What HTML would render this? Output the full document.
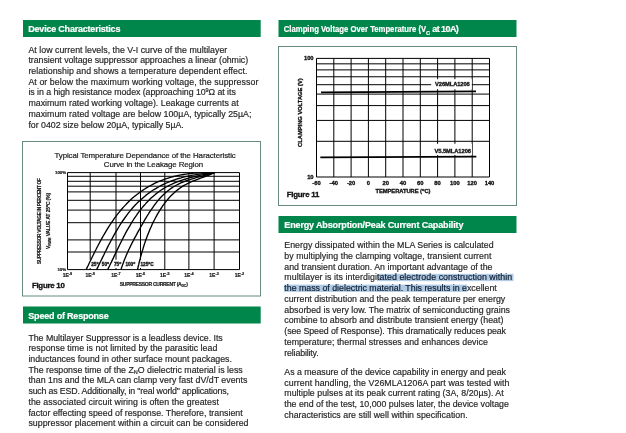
<!DOCTYPE html>
<html><head><meta charset="utf-8"><style>
html,body{margin:0;padding:0;background:#fff;}
svg{display:block;will-change:transform;filter:blur(0.3px);}
svg text{font-family:"Liberation Sans",Arial,sans-serif;font-size:8.8px;fill:#262626;}
text.b{stroke:#262626;stroke-width:0.18px;}
text.h{font-size:9.0px;font-weight:bold;fill:#fff;stroke:#fff;stroke-width:0.2px;}
text.c{fill:#111;stroke:#111;stroke-width:0.32px;}
text.y{fill:#1a1a1a;stroke:#1a1a1a;stroke-width:0.2px;}
text.t{fill:#1a1a1a;stroke:#1a1a1a;stroke-width:0.2px;}
tspan.s{fill:#0e1c30;stroke:#0e1c30;}
</style></head><body>
<svg width="626" height="433" viewBox="0 0 626 433">
<rect x="23" y="20" width="237.7" height="17" fill="#00854b"/>
<text x="28.3" y="32.3" textLength="92.1" class="h">Device Characteristics</text>
<rect x="278.5" y="20" width="238" height="17" fill="#00854b"/>
<rect x="278.5" y="216" width="238" height="17" fill="#00854b"/>
<text x="284.3" y="228.3" textLength="179.1" class="h">Energy Absorption/Peak Current Capability</text>
<rect x="23" y="306.5" width="237.7" height="17" fill="#00854b"/>
<text x="28.3" y="318.8" textLength="80.4" class="h">Speed of Response</text>
<text x="283.8" y="32.3" class="h"><tspan textLength="142.3" lengthAdjust="spacingAndGlyphs">Clamping Voltage Over Temperature (V</tspan><tspan dy="2.4" style="font-size:5.6px">C</tspan><tspan dy="-2.4" x="432.2" textLength="26.6">at 10A)</tspan></text>
<text x="28.4" y="52.6" textLength="198.9" class="b">At low current levels, the V-I curve of the multilayer</text>
<text x="28.4" y="63.32" textLength="219.7" class="b">transient voltage suppressor approaches a linear (ohmic)</text>
<text x="28.4" y="74.04" textLength="219.0" class="b">relationship and shows a temperature dependent effect.</text>
<text x="28.4" y="84.76" textLength="230.0" class="b">At or below the maximum working voltage, the suppressor</text>
<text x="28.4" y="95.48" textLength="207.4" class="b">is in a high resistance modex (approaching 10<tspan dy="-3" style="font-size:5.5px">9</tspan><tspan dy="3">Ω at its</tspan></text>
<text x="28.4" y="106.2" textLength="210.3" class="b">maximum rated working voltage). Leakage currents at</text>
<text x="28.4" y="116.92" textLength="223.0" class="b">maximum rated voltage are below 100µA, typically 25µA;</text>
<text x="28.4" y="127.64" textLength="155.4" class="b">for 0402 size below 20µA, typically 5µA.</text>
<text x="28.4" y="340.5" textLength="194.3" class="b">The Multilayer Suppressor is a leadless device. Its</text>
<text x="28.4" y="351.22" textLength="188.9" class="b">response time is not limited by the parasitic lead</text>
<text x="28.4" y="361.94" textLength="203.5" class="b">inductances found in other surface mount packages.</text>
<text x="28.4" y="372.66" textLength="214.3" class="b">The response time of the Z<tspan dy="1.8" style="font-size:5.5px">N</tspan><tspan dy="-1.8">O dielectric material is less</tspan></text>
<text x="28.4" y="383.38" textLength="219.0" class="b">than 1ns and the MLA can clamp very fast dV/dT events</text>
<text x="28.4" y="394.1" textLength="200.5" class="b">such as ESD. Additionally, in "real world" applications,</text>
<text x="28.4" y="404.82" textLength="190.6" class="b">the associated circuit wiring is often the greatest</text>
<text x="28.4" y="415.54" textLength="214.3" class="b">factor effecting speed of response. Therefore, transient</text>
<text x="28.4" y="426.26" textLength="220.1" class="b">suppressor placement within a circuit can be considered</text>
<rect x="377" y="273.85" width="136.5" height="7.3" fill="#b0cbe3"/>
<rect x="284" y="284.60" width="183.2" height="7.3" fill="#b0cbe3"/>
<text x="284.3" y="248.1" textLength="209.3" class="b">Energy dissipated within the MLA Series is calculated</text>
<text x="284.3" y="258.85" textLength="207.1" class="b">by multiplying the clamping voltage, transient current</text>
<text x="284.3" y="269.6" textLength="208.2" class="b">and transient duration. An important advantage of the</text>
<text x="284.3" y="280.35" textLength="227.9" class="b">multilayer is its interdigi<tspan class="s">tated electrode construction within</tspan></text>
<text x="284.3" y="291.1" textLength="212.5" class="b"><tspan class="s">the mass of dielectric material. This results in e</tspan>xcellent</text>
<text x="284.3" y="301.85" textLength="220.9" class="b">current distribution and the peak temperature per energy</text>
<text x="284.3" y="312.6" textLength="225.7" class="b">absorbed is very low. The matrix of semiconducting grains</text>
<text x="284.3" y="323.35" textLength="219.1" class="b">combine to absorb and distribute transient energy (heat)</text>
<text x="284.3" y="334.1" textLength="221.7" class="b">(see Speed of Response). This dramatically reduces peak</text>
<text x="284.3" y="344.85" textLength="203.5" class="b">temperature; thermal stresses and enhances device</text>
<text x="284.3" y="355.6" textLength="34.3" class="b">reliability.</text>
<text x="284.3" y="375.0" textLength="221.7" class="b">As a measure of the device capability in energy and peak</text>
<text x="284.3" y="385.72" textLength="225.2" class="b">current handling, the V26MLA1206A part was tested with</text>
<text x="284.3" y="396.44" textLength="219.4" class="b">multiple pulses at its peak current rating (3A, 8/20µs). At</text>
<text x="284.3" y="407.16" textLength="224.6" class="b">the end of the test, 10,000 pulses later, the device voltage</text>
<text x="284.3" y="417.88" textLength="183.3" class="b">characteristics are still well within specification.</text>
<rect x="278.5" y="46.5" width="238" height="159" fill="none" stroke="#668a7f" stroke-width="1"/>
<line x1="316.50" y1="58.40" x2="316.50" y2="177.00" stroke="#000" stroke-width="1"/>
<line x1="333.80" y1="58.40" x2="333.80" y2="177.00" stroke="#000" stroke-width="1"/>
<line x1="351.10" y1="58.40" x2="351.10" y2="177.00" stroke="#000" stroke-width="1"/>
<line x1="368.40" y1="58.40" x2="368.40" y2="177.00" stroke="#000" stroke-width="1"/>
<line x1="385.70" y1="58.40" x2="385.70" y2="177.00" stroke="#000" stroke-width="1"/>
<line x1="403.00" y1="58.40" x2="403.00" y2="177.00" stroke="#000" stroke-width="1"/>
<line x1="420.30" y1="58.40" x2="420.30" y2="177.00" stroke="#000" stroke-width="1"/>
<line x1="437.60" y1="58.40" x2="437.60" y2="177.00" stroke="#000" stroke-width="1"/>
<line x1="454.90" y1="58.40" x2="454.90" y2="177.00" stroke="#000" stroke-width="1"/>
<line x1="472.20" y1="58.40" x2="472.20" y2="177.00" stroke="#000" stroke-width="1"/>
<line x1="489.50" y1="58.40" x2="489.50" y2="177.00" stroke="#000" stroke-width="1"/>
<line x1="316.50" y1="177.00" x2="489.50" y2="177.00" stroke="#000" stroke-width="1"/>
<line x1="316.50" y1="141.30" x2="489.50" y2="141.30" stroke="#000" stroke-width="1"/>
<line x1="316.50" y1="120.41" x2="489.50" y2="120.41" stroke="#000" stroke-width="1"/>
<line x1="316.50" y1="105.60" x2="489.50" y2="105.60" stroke="#000" stroke-width="1"/>
<line x1="316.50" y1="94.10" x2="489.50" y2="94.10" stroke="#000" stroke-width="1"/>
<line x1="316.50" y1="84.71" x2="489.50" y2="84.71" stroke="#000" stroke-width="1"/>
<line x1="316.50" y1="76.77" x2="489.50" y2="76.77" stroke="#000" stroke-width="1"/>
<line x1="316.50" y1="69.89" x2="489.50" y2="69.89" stroke="#000" stroke-width="1"/>
<line x1="316.50" y1="63.83" x2="489.50" y2="63.83" stroke="#000" stroke-width="1"/>
<line x1="316.50" y1="58.40" x2="489.50" y2="58.40" stroke="#000" stroke-width="1"/>
<rect x="431.2" y="79.2" width="40.6" height="10" fill="#fff"/>
<rect x="433.5" y="143.8" width="38.4" height="11.2" fill="#fff"/>
<line x1="321.00" y1="92.30" x2="476.00" y2="91.30" stroke="#000" stroke-width="1.7"/>
<line x1="320.30" y1="157.40" x2="476.30" y2="156.70" stroke="#000" stroke-width="1.7"/>
<text x="435.1" y="86.4" textLength="34.7" class="c" style="font-size:5.8px;font-weight:bold;">V26MLA1206</text>
<text x="434.5" y="152.5" textLength="36.5" class="c" style="font-size:5.8px;font-weight:bold;">V5.5MLA1206</text>
<text x="313.6" y="60.2" class="c" text-anchor="end" style="font-size:5.8px;font-weight:bold;">100</text>
<text x="313.6" y="179.1" class="c" text-anchor="end" style="font-size:5.8px;font-weight:bold;">10</text>
<text x="316.5" y="185.3" class="c" text-anchor="middle" style="font-size:5.8px;font-weight:bold;">-60</text>
<text x="333.8" y="185.3" class="c" text-anchor="middle" style="font-size:5.8px;font-weight:bold;">-40</text>
<text x="351.1" y="185.3" class="c" text-anchor="middle" style="font-size:5.8px;font-weight:bold;">-20</text>
<text x="368.4" y="185.3" class="c" text-anchor="middle" style="font-size:5.8px;font-weight:bold;">0</text>
<text x="385.7" y="185.3" class="c" text-anchor="middle" style="font-size:5.8px;font-weight:bold;">20</text>
<text x="403.0" y="185.3" class="c" text-anchor="middle" style="font-size:5.8px;font-weight:bold;">40</text>
<text x="420.3" y="185.3" class="c" text-anchor="middle" style="font-size:5.8px;font-weight:bold;">60</text>
<text x="437.6" y="185.3" class="c" text-anchor="middle" style="font-size:5.8px;font-weight:bold;">80</text>
<text x="454.9" y="185.3" class="c" text-anchor="middle" style="font-size:5.8px;font-weight:bold;">100</text>
<text x="472.2" y="185.3" class="c" text-anchor="middle" style="font-size:5.8px;font-weight:bold;">120</text>
<text x="489.5" y="185.3" class="c" text-anchor="middle" style="font-size:5.8px;font-weight:bold;">140</text>
<text x="375.5" y="192.7" class="c" style="font-size:5.8px;font-weight:bold"><tspan textLength="46.5">TEMPERATURE (</tspan><tspan dy="-1.5" style="font-size:4px">o</tspan><tspan dy="1.5">C)</tspan></text>
<text transform="translate(301.7,146.9) rotate(-90)" x="0" y="0" textLength="68.6" class="c" style="font-size:5.8px;font-weight:bold">CLAMPING VOLTAGE (V)</text>
<text x="286.7" y="196.9" textLength="32.6" class="c" style="font-size:7.9px;font-weight:bold;">Figure 11</text>
<rect x="22.5" y="141.5" width="238" height="154.5" fill="none" stroke="#668a7f" stroke-width="1"/>
<text x="54.5" y="157.8" textLength="181.3" class="t" style="font-size:7.9px;">Typical Temperature Dependance of the Haracteristic</text>
<text x="103.8" y="166.9" textLength="99.3" class="t" style="font-size:7.9px;">Curve in the Leakage Region</text>
<line x1="67.50" y1="172.60" x2="67.50" y2="269.60" stroke="#000" stroke-width="1"/>
<line x1="90.20" y1="172.60" x2="90.20" y2="269.60" stroke="#000" stroke-width="1"/>
<line x1="116.00" y1="172.60" x2="116.00" y2="269.60" stroke="#000" stroke-width="1"/>
<line x1="140.50" y1="172.60" x2="140.50" y2="269.60" stroke="#000" stroke-width="1"/>
<line x1="164.80" y1="172.60" x2="164.80" y2="269.60" stroke="#000" stroke-width="1"/>
<line x1="188.90" y1="172.60" x2="188.90" y2="269.60" stroke="#000" stroke-width="1"/>
<line x1="214.10" y1="172.60" x2="214.10" y2="269.60" stroke="#000" stroke-width="1"/>
<line x1="239.50" y1="172.60" x2="239.50" y2="269.60" stroke="#000" stroke-width="1"/>
<line x1="67.50" y1="172.60" x2="239.50" y2="172.60" stroke="#000" stroke-width="1"/>
<line x1="67.50" y1="176.30" x2="239.50" y2="176.30" stroke="#000" stroke-width="1"/>
<line x1="67.50" y1="181.30" x2="239.50" y2="181.30" stroke="#000" stroke-width="1"/>
<line x1="67.50" y1="186.20" x2="239.50" y2="186.20" stroke="#000" stroke-width="1"/>
<line x1="67.50" y1="191.90" x2="239.50" y2="191.90" stroke="#000" stroke-width="1"/>
<line x1="67.50" y1="200.30" x2="239.50" y2="200.30" stroke="#000" stroke-width="1"/>
<line x1="67.50" y1="210.10" x2="239.50" y2="210.10" stroke="#000" stroke-width="1"/>
<line x1="67.50" y1="222.70" x2="239.50" y2="222.70" stroke="#000" stroke-width="1"/>
<line x1="67.50" y1="239.90" x2="239.50" y2="239.90" stroke="#000" stroke-width="1"/>
<line x1="67.50" y1="252.00" x2="239.50" y2="252.00" stroke="#000" stroke-width="1"/>
<line x1="67.50" y1="269.60" x2="239.50" y2="269.60" stroke="#000" stroke-width="1"/>
<text x="66.2" y="174.2" class="y" text-anchor="end" style="font-size:4.4px;font-weight:bold;">100%</text>
<text x="66.2" y="271.2" class="y" text-anchor="end" style="font-size:4.4px;font-weight:bold;">10%</text>
<text x="67.50" y="277.2" text-anchor="middle" class="y" style="font-size:5px;font-weight:bold">1E<tspan dy="-1.8" style="font-size:3.8px">-9</tspan></text>
<text x="90.20" y="277.2" text-anchor="middle" class="y" style="font-size:5px;font-weight:bold">1E<tspan dy="-1.8" style="font-size:3.8px">-8</tspan></text>
<text x="116.00" y="277.2" text-anchor="middle" class="y" style="font-size:5px;font-weight:bold">1E<tspan dy="-1.8" style="font-size:3.8px">-7</tspan></text>
<text x="140.50" y="277.2" text-anchor="middle" class="y" style="font-size:5px;font-weight:bold">1E<tspan dy="-1.8" style="font-size:3.8px">-6</tspan></text>
<text x="164.80" y="277.2" text-anchor="middle" class="y" style="font-size:5px;font-weight:bold">1E<tspan dy="-1.8" style="font-size:3.8px">-5</tspan></text>
<text x="188.90" y="277.2" text-anchor="middle" class="y" style="font-size:5px;font-weight:bold">1E<tspan dy="-1.8" style="font-size:3.8px">-4</tspan></text>
<text x="214.10" y="277.2" text-anchor="middle" class="y" style="font-size:5px;font-weight:bold">1E<tspan dy="-1.8" style="font-size:3.8px">-3</tspan></text>
<text x="239.50" y="277.2" text-anchor="middle" class="y" style="font-size:5px;font-weight:bold">1E<tspan dy="-1.8" style="font-size:3.8px">-2</tspan></text>
<text x="119.7" y="286.1" class="y" style="font-size:5px;font-weight:bold"><tspan textLength="62">SUPPRESSOR CURRENT (A</tspan><tspan dy="1.2" style="font-size:3.4px">DC</tspan><tspan dy="-1.2">)</tspan></text>
<text transform="translate(41.3,264) rotate(-90)" x="0" y="0" textLength="86" class="y" style="font-size:4.8px;font-weight:bold">SUPPRESSOR VOLTAGE IN PERCENT OF</text>
<text transform="translate(49.5,249) rotate(-90)" x="0" y="0" textLength="56" class="y" style="font-size:4.8px;font-weight:bold">V<tspan dy="1" style="font-size:3.4px">RWM</tspan><tspan dy="-1"> VALUE AT 25</tspan><tspan dy="-1.5" style="font-size:3.4px">o</tspan><tspan dy="1.5">C (%)</tspan></text>
<text x="31.9" y="288.2" textLength="32.9" class="c" style="font-size:7.9px;font-weight:bold;">Figure 10</text>
<rect x="88" y="259.8" width="68" height="8.2" fill="#fff"/>
<polyline points="86.2,269.6 87.2,267.4 88.3,265.2 89.3,263.0 90.4,260.8 91.5,258.5 92.6,256.3 93.7,254.0 94.8,251.8 96.0,249.5 97.1,247.2 98.3,245.0 99.5,242.7 100.7,240.5 102.0,238.2 103.2,236.0 104.5,233.8 105.8,231.6 107.1,229.4 108.5,227.2 109.9,225.0 111.3,222.9 112.7,220.8 114.2,218.7 115.7,216.7 117.2,214.6 118.8,212.6 120.4,210.7 122.0,208.8 123.7,206.9 125.4,205.1 127.1,203.3 128.9,201.5 130.7,199.8 132.5,198.1 134.4,196.5 136.3,195.0 138.3,193.5 140.2,192.0 142.3,190.6 144.3,189.2 146.4,187.9 148.5,186.7 150.7,185.5 152.8,184.3 155.0,183.2 157.3,182.2 159.6,181.2 161.9,180.3 164.2,179.4 166.5,178.6 168.9,177.9 171.3,177.2 173.7,176.5 176.2,175.9 178.6,175.4 181.1,174.9 183.6,174.5 186.1,174.1 188.7,173.7 191.2,173.5 193.8,173.2 196.3,173.0 198.9,172.9 201.4,172.7 204.0,172.7 206.6,172.6 209.2,172.7 211.7,172.7 214.3,172.8" fill="none" stroke="#000" stroke-width="1.35" stroke-linejoin="round"/>
<polyline points="96.6,269.6 97.6,267.6 98.6,265.5 99.6,263.4 100.7,261.3 101.7,259.2 102.7,257.1 103.8,255.0 104.8,252.8 105.9,250.7 106.9,248.6 108.0,246.4 109.1,244.3 110.2,242.2 111.3,240.0 112.5,237.9 113.6,235.8 114.8,233.7 116.0,231.6 117.2,229.6 118.5,227.5 119.7,225.5 121.0,223.4 122.3,221.5 123.7,219.5 125.1,217.5 126.5,215.6 127.9,213.7 129.3,211.9 130.8,210.1 132.3,208.3 133.9,206.5 135.5,204.8 137.1,203.1 138.8,201.5 140.5,199.9 142.2,198.4 144.0,196.9 145.8,195.4 147.6,194.0 149.5,192.6 151.4,191.3 153.3,190.0 155.3,188.8 157.3,187.6 159.3,186.5 161.3,185.4 163.4,184.4 165.5,183.4 167.7,182.5 169.9,181.6 172.1,180.7 174.3,180.0 176.5,179.2 178.8,178.5 181.1,177.9 183.4,177.2 185.7,176.7 188.1,176.1 190.4,175.7 192.8,175.2 195.1,174.8 197.5,174.4 199.9,174.1 202.3,173.8 204.7,173.5 207.1,173.3 209.5,173.1 211.9,172.9 214.3,172.8" fill="none" stroke="#000" stroke-width="1.35" stroke-linejoin="round"/>
<polyline points="107.7,269.6 108.6,267.7 109.6,265.8 110.5,263.8 111.5,261.9 112.4,259.9 113.4,257.9 114.3,255.9 115.3,253.9 116.2,251.9 117.2,249.9 118.2,247.9 119.2,245.8 120.2,243.8 121.2,241.8 122.2,239.8 123.2,237.7 124.3,235.7 125.3,233.7 126.4,231.7 127.5,229.7 128.6,227.8 129.8,225.8 130.9,223.9 132.1,221.9 133.3,220.0 134.5,218.2 135.8,216.3 137.0,214.5 138.3,212.7 139.6,210.9 141.0,209.1 142.4,207.4 143.8,205.7 145.3,204.1 146.7,202.4 148.3,200.9 149.8,199.3 151.4,197.8 153.0,196.4 154.7,195.0 156.3,193.6 158.1,192.3 159.8,191.0 161.6,189.8 163.5,188.6 165.3,187.5 167.2,186.5 169.2,185.4 171.1,184.5 173.1,183.6 175.2,182.7 177.2,181.9 179.3,181.1 181.4,180.3 183.6,179.6 185.7,179.0 187.9,178.3 190.0,177.7 192.2,177.2 194.4,176.6 196.6,176.1 198.8,175.6 201.0,175.2 203.3,174.7 205.5,174.3 207.7,173.9 209.9,173.5 212.1,173.2 214.3,172.8" fill="none" stroke="#000" stroke-width="1.35" stroke-linejoin="round"/>
<polyline points="121.0,269.6 121.6,267.6 122.3,265.6 123.0,263.7 123.7,261.7 124.4,259.8 125.2,257.9 126.0,256.0 126.8,254.1 127.7,252.2 128.5,250.3 129.4,248.5 130.3,246.6 131.2,244.8 132.1,242.9 133.1,241.1 134.0,239.2 135.0,237.4 136.0,235.6 137.0,233.7 138.0,231.9 139.0,230.1 140.0,228.3 141.0,226.4 142.1,224.6 143.1,222.8 144.2,220.9 145.2,219.1 146.3,217.3 147.4,215.5 148.5,213.8 149.6,212.0 150.8,210.3 152.0,208.6 153.2,206.9 154.4,205.2 155.6,203.6 156.9,201.9 158.2,200.4 159.5,198.8 160.9,197.3 162.3,195.8 163.7,194.4 165.2,193.1 166.7,191.7 168.3,190.5 169.9,189.3 171.5,188.1 173.2,187.0 174.9,186.0 176.7,185.0 178.5,184.1 180.3,183.2 182.2,182.4 184.1,181.7 186.1,180.9 188.1,180.2 190.0,179.6 192.0,178.9 194.1,178.3 196.1,177.7 198.1,177.2 200.2,176.6 202.2,176.1 204.2,175.5 206.3,175.0 208.3,174.5 210.3,173.9 212.3,173.4 214.3,172.8" fill="none" stroke="#000" stroke-width="1.35" stroke-linejoin="round"/>
<polyline points="137.5,269.6 137.9,267.8 138.3,266.0 138.8,264.2 139.2,262.3 139.7,260.5 140.2,258.7 140.6,256.8 141.2,255.0 141.7,253.1 142.2,251.3 142.8,249.5 143.3,247.6 143.9,245.8 144.5,243.9 145.1,242.1 145.7,240.3 146.4,238.4 147.1,236.6 147.8,234.8 148.5,233.0 149.2,231.2 149.9,229.4 150.7,227.7 151.5,225.9 152.3,224.1 153.1,222.4 154.0,220.7 154.9,219.0 155.8,217.3 156.7,215.6 157.6,213.9 158.6,212.3 159.6,210.7 160.6,209.1 161.7,207.5 162.7,205.9 163.8,204.4 164.9,202.9 166.1,201.4 167.3,200.0 168.5,198.5 169.7,197.1 171.0,195.8 172.3,194.5 173.7,193.2 175.0,191.9 176.5,190.7 177.9,189.6 179.4,188.5 180.9,187.4 182.5,186.4 184.1,185.4 185.8,184.5 187.5,183.6 189.2,182.8 191.0,182.0 192.7,181.2 194.5,180.5 196.3,179.8 198.2,179.1 200.0,178.4 201.8,177.7 203.6,177.0 205.4,176.3 207.2,175.6 209.0,175.0 210.8,174.3 212.6,173.5 214.3,172.8" fill="none" stroke="#000" stroke-width="1.35" stroke-linejoin="round"/>
<text x="91.2" y="265.8" class="c" style="font-size:4.7px;font-weight:bold;">25<tspan dy="-1.5" style="font-size:3.3px">o</tspan></text>
<text x="101.8" y="265.8" class="c" style="font-size:4.7px;font-weight:bold;">50<tspan dy="-1.5" style="font-size:3.3px">o</tspan></text>
<text x="114" y="265.8" class="c" style="font-size:4.7px;font-weight:bold;">75<tspan dy="-1.5" style="font-size:3.3px">o</tspan></text>
<text x="125.4" y="265.8" class="c" style="font-size:4.7px;font-weight:bold;">100<tspan dy="-1.5" style="font-size:3.3px">o</tspan></text>
<text x="140.5" y="265.8" class="c" style="font-size:4.7px;font-weight:bold;">125<tspan dy="-1.5" style="font-size:3.3px">o</tspan><tspan dy="1.5">C</tspan></text>
</svg>
</body></html>
